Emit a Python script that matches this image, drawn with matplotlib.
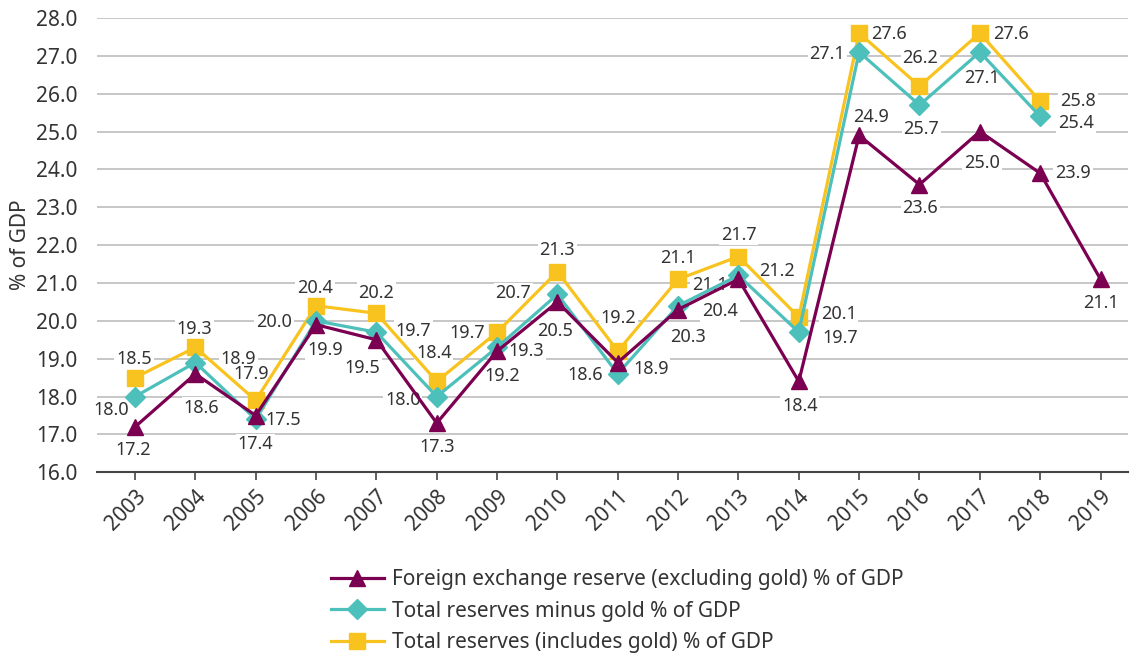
import matplotlib
matplotlib.use("Agg")
import matplotlib.pyplot as plt
from matplotlib.lines import Line2D

plt.rcParams['font.family'] = ['Noto Sans', 'DejaVu Sans']

years = list(range(2003, 2020))

fx_excl_gold = [17.2, 18.6, 17.5, 19.9, 19.5, 17.3, 19.2, 20.5, 18.9, 20.3, 21.1, 18.4, 24.9, 23.6, 25.0, 23.9, 21.1]
total_minus_gold = [18.0, 18.9, 17.4, 20.0, 19.7, 18.0, 19.3, 20.7, 18.6, 20.4, 21.2, 19.7, 27.1, 25.7, 27.1, 25.4]
total_incl_gold = [18.5, 19.3, 17.9, 20.4, 20.2, 18.4, 19.7, 21.3, 19.2, 21.1, 21.7, 20.1, 27.6, 26.2, 27.6, 25.8]

labels = ['Foreign exchange reserve (excluding gold) % of GDP',
          'Total reserves minus gold % of GDP',
          'Total reserves (includes gold) % of GDP']

# value label offsets from the marker, in pixels (label centre)
fx_off = [(-2, -22), (6, -33), (28, -3), (9, -24), (-14, -27), (0, -23), (5, -24), (-2, -28),
          (33, -5), (10, -26), (-29, -5), (1, -24), (12, 19), (1, -22), (2, -30), (33, 1), (0, -23)]
minus_off = [(-24, -12), (43, 5), (0, -24), (-42, 0), (37, 2), (-34, -2), (29, -3), (-44, 2),
             (-33, 0), (42, -4), (39, 5), (41, -5), (-32, -1), (2, -23), (2, -25), (36, -6)]
incl_off = [(-1, 20), (-1, 19), (-4, 27), (-1, 19), (0, 21), (-3, 29), (-30, 0), (0, 23),
            (1, 34), (0, 22), (0, 23), (40, 4), (30, 0), (1, 29), (31, 0), (38, 1)]

PURPLE = '#7b0051'
TEAL = '#4dc0bb'
YELLOW = '#f9c31f'
TXT = '#333333'
FS_LAB = 13
FS_TICK = 15


def annotate(ax, xs, ys, offs, z):
    for x, y, (dx, dy) in zip(xs, ys, offs):
        ax.annotate(f"{y:.1f}", (x, y), xytext=(dx, dy - 1), textcoords='offset pixels',
                    ha='center', va='center', fontsize=FS_LAB, color=TXT, zorder=z,
                    bbox=dict(boxstyle='square,pad=0.1', fc='white', ec='none'))


fig = plt.figure(figsize=(11.32, 6.56), dpi=100)
ax = fig.add_axes([0.0857, 0.28, 0.911, 0.6926])

ax.plot(years[:len(total_incl_gold)], total_incl_gold, color=YELLOW, lw=2.3,
        marker='s', ms=12, zorder=5)
ax.plot(years[:len(total_minus_gold)], total_minus_gold, color=TEAL, lw=2.3,
        marker='D', ms=10.5, zorder=6)
ax.plot(years, fx_excl_gold, color=PURPLE, lw=2.3, marker='^', ms=11.5, zorder=7)

annotate(ax, years, total_minus_gold, minus_off, 2.0)
annotate(ax, years, total_incl_gold, incl_off, 2.1)
annotate(ax, years, fx_excl_gold, fx_off, 2.2)

ax.set_ylim(16, 28)
ax.set_xlim(2002.37, 2019.46)
ax.set_yticks([16 + i for i in range(13)])
ax.set_yticklabels([f"{16 + i:.1f}" for i in range(13)], fontsize=FS_TICK, color=TXT)
ax.set_xticks(years)
ax.set_xticklabels([str(y) for y in years], rotation=45, ha='right',
                   rotation_mode='anchor', fontsize=FS_TICK, color=TXT)
ax.grid(axis='y', color='#bdbdbd', lw=1.2, zorder=0)
ax.set_axisbelow(True)
for s in ['top', 'right', 'left']:
    ax.spines[s].set_visible(False)
ax.spines['bottom'].set_color('#444444')
ax.spines['bottom'].set_linewidth(1.5)
ax.tick_params(axis='y', length=0, pad=14)
ax.tick_params(axis='x', length=6, color='#444444', width=1.2, pad=4)
ax.set_ylabel('% of GDP', fontsize=FS_TICK, color=TXT, labelpad=4)

handles = [
    Line2D([], [], color=PURPLE, lw=2.3, marker='^', ms=11.5),
    Line2D([], [], color=TEAL, lw=2.3, marker='D', ms=10.5),
    Line2D([], [], color=YELLOW, lw=2.3, marker='s', ms=12),
]
fig.legend(handles, labels, loc='upper left', bbox_to_anchor=(0.2754, 0.161),
           frameon=False, fontsize=FS_TICK, handlelength=2.55, labelspacing=0.5,
           handletextpad=0.4, labelcolor=TXT)

fig.savefig('out.png', dpi=100)
